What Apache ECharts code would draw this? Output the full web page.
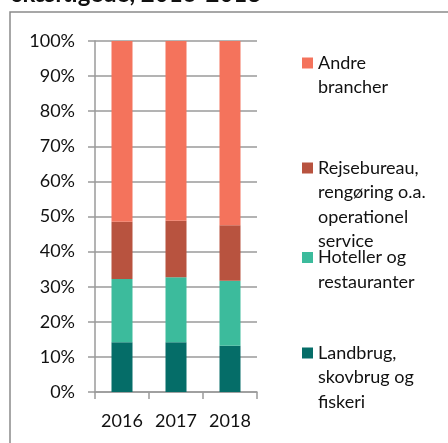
<!DOCTYPE html>
<html>
<head>
<meta charset="utf-8">
<script src="https://cdn.jsdelivr.net/npm/echarts@6/dist/echarts.min.js"></script>
<style>html,body{margin:0;padding:0;background:#fff}#c{width:448px;height:443px}</style>
</head>
<body>
<div id="c"></div>
<script>
const years = ['2016', '2017', '2018'];
const landbrug = [14.2, 14.2, 13.2];
const hoteller = [18.0, 18.5, 18.5];
const rejsebureau = [16.3, 16.1, 15.8];
const andre = [51.5, 51.2, 52.5];
const seriesNames = ['Landbrug, skovbrug og fiskeri', 'Hoteller og restauranter', 'Rejsebureau, rengøring o.a. operationel service', 'Andre brancher'];
const legendLines = {
  'Andre brancher': ['Andre', 'brancher'],
  'Rejsebureau, rengøring o.a. operationel service': ['Rejsebureau,', 'rengøring o.a.', 'operationel', 'service'],
  'Hoteller og restauranter': ['Hoteller og', 'restauranter'],
  'Landbrug, skovbrug og fiskeri': ['Landbrug,', 'skovbrug og', 'fiskeri']
};
const titleText = 'skæftigede, 2016-2018';

const colors = ['#056D68', '#3CBB9C', '#B8533F', '#F4735C'];
const values = [landbrug, hoteller, rejsebureau, andre];
const legendCenters = { 'Andre brancher': 63, 'Rejsebureau, rengøring o.a. operationel service': 168, 'Hoteller og restauranter': 257.5, 'Landbrug, skovbrug og fiskeri': 353 };
const LH = 24.5;
const FONT = 'Lato';
const GRID_COLOR = '#9a9a9a';

const legends = seriesNames.map(n => {
  const lines = legendLines[n];
  const k = lines.length;
  return {
    data: [n], left: 302, top: legendCenters[n] - (2 * k - 1) * LH / 2,
    orient: 'vertical', icon: 'rect', itemWidth: 11, itemHeight: 11, padding: 0,
    selectedMode: false,
    textStyle: { fontFamily: FONT, fontSize: 18, color: '#111', lineHeight: LH },
    formatter: () => '\n'.repeat(k - 1) + lines.join('\n')
  };
});

const chart = echarts.init(document.getElementById('c'), null, { renderer: 'canvas' });
chart.setOption({
  animation: false,
  color: colors,
  textStyle: { fontFamily: FONT },
  graphic: [
    { type: 'rect', shape: { x: 10, y: 12, width: 600, height: 600 }, style: { fill: 'none', stroke: '#8a8a8a', lineWidth: 1.5 }, silent: true },
    { type: 'text', style: { text: titleText, x: 12, y: 6, font: 'bold 24px Lato', fill: '#111', verticalAlign: 'bottom' } }
  ],
  legend: legends,
  grid: { left: 95, right: 191, top: 41, bottom: 51, containLabel: false },
  xAxis: {
    type: 'category', data: years,
    axisLine: { lineStyle: { color: GRID_COLOR, width: 1.5 } },
    axisTick: { show: true, length: 7, alignWithLabel: false, lineStyle: { color: GRID_COLOR, width: 1.5 } },
    splitLine: { show: false },
    axisLabel: { interval: 0, fontFamily: FONT, fontSize: 18, color: '#111', margin: 20 }
  },
  yAxis: {
    type: 'value', min: 0, max: 100, interval: 10,
    axisLine: { show: true, lineStyle: { color: GRID_COLOR, width: 1.5 } },
    axisTick: { show: true, length: 7, lineStyle: { color: GRID_COLOR, width: 1.5 } },
    splitLine: { show: true, lineStyle: { color: GRID_COLOR, width: 1.5 } },
    axisLabel: { formatter: '{value}%', fontFamily: FONT, fontSize: 18, color: '#111', margin: 20 }
  },
  series: seriesNames.map((n, i) => ({
    name: n, type: 'bar', stack: 'total', barWidth: 21, data: values[i],
    itemStyle: { color: colors[i] }
  }))
});
</script>
</body>
</html>
